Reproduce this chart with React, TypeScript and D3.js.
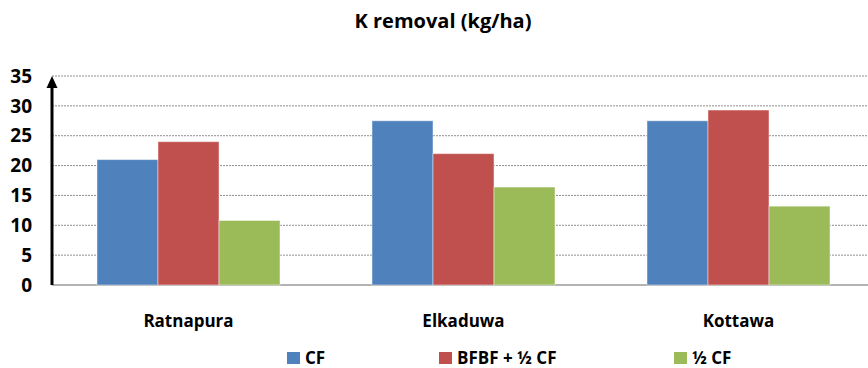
import React from "react";
import * as d3 from "d3";

const categories = ["Ratnapura", "Elkaduwa", "Kottawa"];
const seriesNames = ["CF", "BFBF + ½ CF", "½ CF"];
const cfValues = [21, 27.5, 27.5];
const bfbfValues = [24, 22, 29.3];
const halfCfValues = [10.8, 16.4, 13.2];
const yTicks = [0, 5, 10, 15, 20, 25, 30, 35];
const colors = ["#4F81BD", "#C0504D", "#9BBB59"];

const W = 868;
const H = 368;
const FONT = "'Open Sans', 'Noto Sans', sans-serif";

export default function App() {
  const series = [cfValues, bfbfValues, halfCfValues];
  const x0 = d3.scaleBand<string>().domain(categories).range([51, 876]).paddingInner(0.3345).paddingOuter(0.3345 / 2);
  const x1 = d3.scaleBand<string>().domain(seriesNames).range([0, x0.bandwidth()]);
  const y = d3.scaleLinear().domain([0, 35]).range([285, 76]);
  const axisX = 52;

  const legendX = [287, 439, 674];

  return (
    <svg width={W} height={H} style={{ position: "fixed", left: 0, top: 0, background: "#fff" }}>
      <text x={443} y={28} textAnchor="middle" fontFamily={FONT} fontWeight={700} fontSize={20} fill="#000">
        K removal (kg/ha)
      </text>

      {yTicks.filter((t) => t > 0).map((t) => (
        <line key={"g" + t} x1={axisX} x2={W} y1={y(t)} y2={y(t)} stroke="#8f8f8f" strokeWidth={1} strokeDasharray="2,1" />
      ))}
      <line x1={axisX} x2={W} y1={y(0)} y2={y(0)} stroke="#9a9a9a" strokeWidth={1.5} />

      {categories.map((c, ci) => (
        <g key={c} transform={`translate(${x0(c)},0)`}>
          {series.map((vals, si) => (
            <rect
              key={si}
              x={x1(seriesNames[si])}
              y={y(vals[ci])}
              width={x1.bandwidth()}
              height={y(0) - y(vals[ci])}
              fill={colors[si]}
              stroke="rgba(255,255,255,0.45)"
              strokeWidth={1}
            />
          ))}
        </g>
      ))}

      {/* y axis with arrow */}
      <line x1={axisX} x2={axisX} y1={y(0)} y2={88} stroke="#000" strokeWidth={3} />
      <path d={`M${axisX - 5.5},88 L${axisX},76 L${axisX + 5.5},88 Z`} fill="#000" />

      {yTicks.map((t) => (
        <text key={"t" + t} x={32} y={y(t)} dy="0.35em" textAnchor="end" fontFamily={FONT} fontWeight={700} fontSize={19} fill="#000">
          {t}
        </text>
      ))}

      {categories.map((c) => (
        <text key={"c" + c} x={(x0(c) as number) + x0.bandwidth() / 2} y={327} textAnchor="middle" fontFamily={FONT} fontWeight={700} fontSize={17} fill="#000">
          {c}
        </text>
      ))}

      {seriesNames.map((s, i) => (
        <g key={"l" + s}>
          <rect x={legendX[i]} y={352} width={13} height={12} fill={colors[i]} />
          <text x={legendX[i] + 18} y={364} fontFamily={FONT} fontWeight={700} fontSize={17} fill="#000">
            {s}
          </text>
        </g>
      ))}
    </svg>
  );
}
